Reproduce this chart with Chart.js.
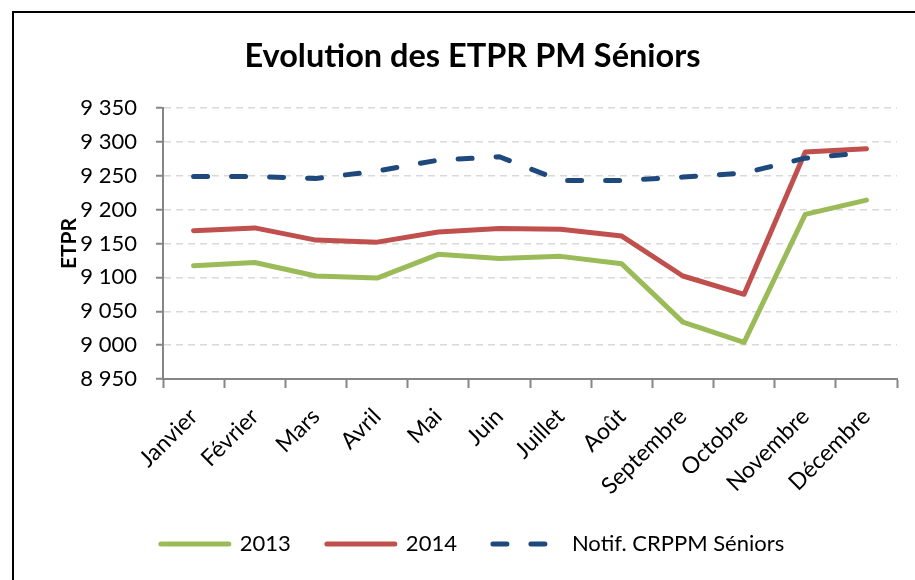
<!DOCTYPE html>
<html>
<head>
<meta charset="utf-8">
<script src="https://cdn.jsdelivr.net/npm/chart.js@4"></script>
<style>
  html, body { margin: 0; padding: 0; background: #fff; overflow: hidden; }
  #cadre { position: absolute; left: 12px; top: 11px; width: 901px; height: 567px;
           border-left: 2px solid #000; border-top: 2px solid #000; }
</style>
</head>
<body>
<div id="cadre"><canvas id="chartEtpr" width="901" height="567"></canvas></div>
<script>
// Données
const mois = ['Janvier', 'Février', 'Mars', 'Avril', 'Mai', 'Juin', 'Juillet', 'Août',
              'Septembre', 'Octobre', 'Novembre', 'Décembre'];
const etpr2013   = [9117, 9122, 9102, 9099, 9134, 9128, 9131, 9120, 9034, 9004, 9193, 9214];
const etpr2014   = [9169, 9173, 9155, 9152, 9167, 9172, 9171, 9161, 9102, 9075, 9285, 9290];
const notifCrppm = [9249, 9249, 9246, 9257, 9273, 9278, 9243, 9243, 9248, 9254, 9276, 9284];
const axeYMin = 8950, axeYMax = 9350, axeYPas = 50;

const fmtMilliers = v => Math.floor(v / 1000) + ' ' + String(v % 1000).padStart(3, '0');

Chart.defaults.font.family = "Lato, 'Open Sans', sans-serif";
Chart.defaults.color = '#000';

const styleLigne = { borderWidth: 5, borderCapStyle: 'round', borderJoinStyle: 'round', tension: 0,
                     pointRadius: 0, pointHoverRadius: 0 };

// la légende en pointStyle ne reprend pas les tirets : on les remet
const legendeLabels = chart =>
  Chart.defaults.plugins.legend.labels.generateLabels(chart).map(it => ({
    ...it,
    lineDash: chart.data.datasets[it.datasetIndex].borderDash || [],
    lineCap: 'round',
    lineWidth: 5
  }));

const ctx = document.getElementById('chartEtpr').getContext('2d');
new Chart(ctx, {
  type: 'line',
  data: {
    labels: mois,
    datasets: [
      { ...styleLigne, label: '2013', data: etpr2013, borderColor: '#9BBB59', backgroundColor: '#9BBB59', order: 3 },
      { ...styleLigne, label: '2014', data: etpr2014, borderColor: '#C0504D', backgroundColor: '#C0504D', order: 2 },
      { ...styleLigne, label: 'Notif. CRPPM Séniors', data: notifCrppm, borderColor: '#1F497D',
        backgroundColor: '#1F497D', borderDash: [14, 24], order: 1 }
    ]
  },
  options: {
    responsive: false,
    animation: false,
    devicePixelRatio: 1,
    layout: { padding: { left: 34, right: 18, top: 0, bottom: 15 } },
    plugins: {
      title: {
        display: true,
        text: 'Evolution des ETPR PM Séniors',
        font: { size: 32.5, weight: 'bold' },
        color: '#000',
        padding: { top: 24, bottom: 32 }
      },
      legend: {
        position: 'bottom',
        labels: {
          usePointStyle: true,
          pointStyle: 'line',
          pointStyleWidth: 68,
          padding: 36,
          font: { size: 22 },
          color: '#000',
          generateLabels: legendeLabels,
          sort: (a, b) => a.datasetIndex - b.datasetIndex
        }
      },
      tooltip: { enabled: false }
    },
    scales: {
      x: {
        offset: true,
        grid: { offset: true, drawOnChartArea: false, drawTicks: true, tickLength: 9, tickColor: '#868686', tickWidth: 2 },
        border: { color: '#868686', width: 2 },
        ticks: { maxRotation: 45, minRotation: 45, font: { size: 23 }, color: '#000', padding: 15 },
        afterFit: s => { s.height = 118; }
      },
      y: {
        min: axeYMin,
        max: axeYMax,
        title: { display: true, text: 'ETPR', font: { size: 21, weight: 'bold' }, color: '#000',
                 padding: { top: 9, bottom: 0 } },
        grid: { color: '#D9D9D9', lineWidth: 1.5, drawTicks: true, tickLength: 7, tickColor: '#868686', tickWidth: 2 },
        border: { color: '#868686', width: 2, dash: [7, 5] },
        ticks: { stepSize: axeYPas, font: { size: 22 }, color: '#000', padding: 19, callback: v => fmtMilliers(v) },
        afterFit: s => { s.width = 115; }
      }
    }
  }
});
</script>
</body>
</html>
